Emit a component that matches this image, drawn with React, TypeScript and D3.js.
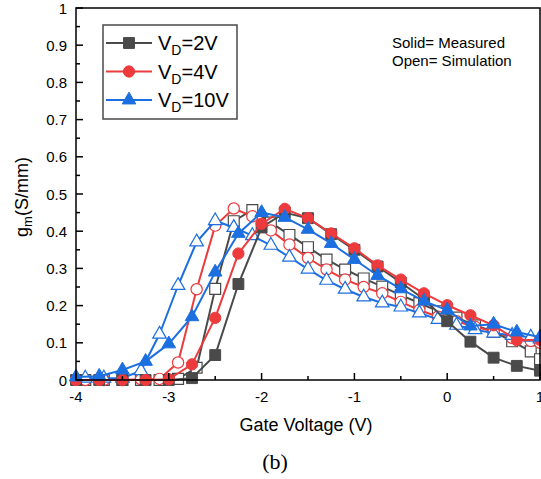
import React from "react";
import * as d3 from "d3";

// measured points (filled), 0.25 V step
const vgMeas = [-4, -3.75, -3.5, -3.25, -3, -2.75, -2.5, -2.25, -2, -1.75, -1.5, -1.25, -1, -0.75, -0.5, -0.25, 0, 0.25, 0.5, 0.75, 1];
const gm2VMeas = [0, 0, 0, 0, 0, 0.005, 0.067, 0.258, 0.41, 0.45, 0.435, 0.392, 0.35, 0.305, 0.262, 0.217, 0.158, 0.103, 0.06, 0.038, 0.025];
const gm4VMeas = [0, 0, 0, 0, 0.002, 0.042, 0.167, 0.34, 0.42, 0.46, 0.435, 0.394, 0.354, 0.308, 0.27, 0.233, 0.201, 0.174, 0.147, 0.107, 0.108];
const gm10VMeas = [0.008, 0.01, 0.027, 0.05, 0.097, 0.17, 0.29, 0.394, 0.45, 0.437, 0.405, 0.367, 0.324, 0.281, 0.245, 0.212, 0.188, 0.145, 0.15, 0.129, 0.115];

// simulation points (open)
const vgSim = [-3.9, -3.7, -3.5, -3.3, -3.1, -2.9, -2.7, -2.5, -2.3, -2.1, -1.9, -1.7, -1.5, -1.3, -1.1, -0.9, -0.7, -0.5, -0.3, -0.1, 0.1, 0.3, 0.5, 0.7, 0.9, 1];
const gm2VSim = [0, 0, 0, 0, 0, 0.003, 0.033, 0.245, 0.427, 0.457, 0.423, 0.39, 0.357, 0.324, 0.297, 0.273, 0.251, 0.228, 0.207, 0.185, 0.168, 0.147, 0.13, 0.104, 0.077, 0.056];
const gm4VSim = [0, 0, 0, 0.002, 0.003, 0.047, 0.244, 0.415, 0.461, 0.44, 0.402, 0.364, 0.328, 0.297, 0.27, 0.25, 0.233, 0.21, 0.188, 0.17, 0.158, 0.143, 0.13, 0.113, 0.105, 0.1];
const gm10VSim = [0.005, 0.005, 0.005, 0.025, 0.123, 0.254, 0.371, 0.428, 0.41, 0.388, 0.362, 0.33, 0.298, 0.268, 0.244, 0.223, 0.207, 0.196, 0.18, 0.163, 0.147, 0.135, 0.126, 0.12, 0.115, 0.11];

const xTicks = [-4, -3, -2, -1, 0, 1];
const yTicks = [0, 0.1, 0.2, 0.3, 0.4, 0.5, 0.6, 0.7, 0.8, 0.9, 1];
const legendLabels = ["2V", "4V", "10V"];

const FONT = "Arial, 'Liberation Sans', Helvetica, sans-serif";
const colors = ["#4a4a4a", "#ec3a3d", "#1c6fe0"];
const shapes = [d3.symbolSquare, d3.symbolCircle, d3.symbolTriangle];
const sizes = [118, 100, 80];

const App = () => {
  const left = 76, right = 540, top = 8, bottom = 380;
  const x = d3.scaleLinear().domain([-4, 1]).range([left, right]);
  const y = d3.scaleLinear().domain([0, 1]).range([bottom, top]);

  const line = d3
    .line<[number, number]>()
    .x(d => x(d[0]))
    .y(d => y(d[1]));

  const meas = [gm2VMeas, gm4VMeas, gm10VMeas].map(s => vgMeas.map((v, i) => [v, s[i]] as [number, number]));
  const sim = [gm2VSim, gm4VSim, gm10VSim].map(s => vgSim.map((v, i) => [v, s[i]] as [number, number]));

  const sym = (k: number) => d3.symbol().type(shapes[k]).size(sizes[k])() as string;

  const xMinor = d3.range(-4, 1.001, 0.5);
  const yMinor = d3.range(0, 1.001, 0.05);

  const series = (pts: [number, number][], k: number, open: boolean) => (
    <g key={(open ? "s" : "m") + k}>
      <path d={line(pts) as string} fill="none" stroke={colors[k]} strokeWidth={2} strokeLinejoin="round" />
      {pts.map((p, i) => (
        <path
          key={i}
          d={sym(k)}
          transform={`translate(${x(p[0])},${y(p[1])})`}
          fill={open ? "#fff" : colors[k]}
          stroke={colors[k]}
          strokeWidth={open ? 1.2 : 1}
        />
      ))}
    </g>
  );

  return (
    <svg width={541} height={479} style={{ position: "absolute", left: 0, top: 0, background: "#fff" }} fontFamily={FONT}>
      <rect width={541} height={479} fill="#fff" />

      {sim.map((pts, k) => series(pts, k, true))}
      {meas.map((pts, k) => series(pts, k, false))}

      {/* frame */}
      <rect x={left} y={top} width={right - left} height={bottom - top} fill="none" stroke="#000" strokeWidth={1.5} />

      {/* x ticks */}
      {xMinor.map(v => (
        <line key={"xm" + v} x1={x(v)} x2={x(v)} y1={bottom} y2={bottom - (Math.abs(v % 1) < 1e-6 ? 7 : 4)} stroke="#000" strokeWidth={1.5} />
      ))}
      {xTicks.map(v => (
        <text key={"xl" + v} x={x(v)} y={402} textAnchor="middle" fontSize={15}>
          {v}
        </text>
      ))}

      {/* y ticks */}
      {yMinor.map((v, i) => (
        <line key={"ym" + i} x1={left} x2={left + (i % 2 === 0 ? 7 : 4)} y1={y(v)} y2={y(v)} stroke="#000" strokeWidth={1.5} />
      ))}
      {yTicks.map(v => (
        <text key={"yl" + v} x={67} y={y(v) + 5.5} textAnchor="end" fontSize={15}>
          {v}
        </text>
      ))}

      {/* axis titles */}
      <text x={306} y={431} textAnchor="middle" fontSize={18}>
        Gate Voltage (V)
      </text>
      <text transform="translate(28,197) rotate(-90)" textAnchor="middle" fontSize={18}>
        g<tspan fontSize={13} dy={4}>m</tspan>
        <tspan dy={-4}>(S/mm)</tspan>
      </text>

      {/* legend */}
      <rect x={103} y={25} width={134} height={94} fill="#fff" stroke="#4a4a4a" strokeWidth={1.5} />
      {legendLabels.map((lab, k) => {
        const ly = 43 + k * 28.5;
        return (
          <g key={"lg" + k}>
            <line x1={106} x2={152} y1={ly} y2={ly} stroke={colors[k]} strokeWidth={2} />
            <path d={sym(k)} transform={`translate(129,${ly})`} fill={colors[k]} stroke={colors[k]} />
            <text x={158} y={ly + 7} fontSize={20}>
              V<tspan fontSize={14} dy={5}>D</tspan>
              <tspan dy={-5}>={lab}</tspan>
            </text>
          </g>
        );
      })}

      <text x={392} y={48} fontSize={15}>Solid= Measured</text>
      <text x={392} y={66} fontSize={15}>Open= Simulation</text>

      <text x={275} y={469} textAnchor="middle" fontSize={22} fontFamily="'Liberation Serif', 'Times New Roman', serif">
        (b)
      </text>
    </svg>
  );
};

export default App;
